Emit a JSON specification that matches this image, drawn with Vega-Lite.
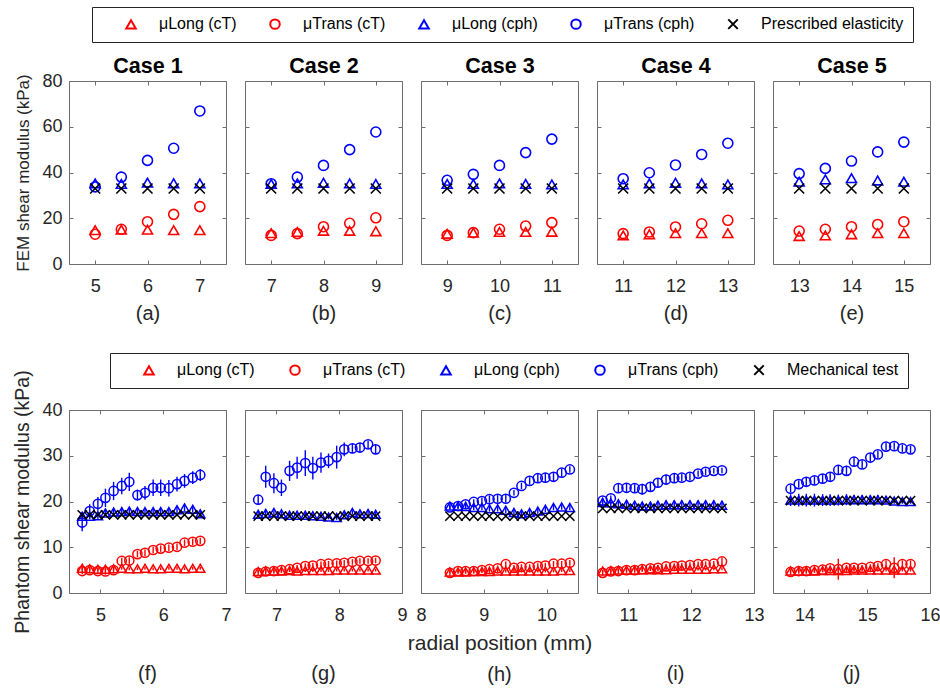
{
"$schema":"https://vega.github.io/schema/vega-lite/v6.json",
"padding":{"left":12,"top":6,"right":0,"bottom":0},
"config":{
 "font":"Liberation Sans",
 "view":{"stroke":"#6e6e6e","strokeWidth":1},
 "axis":{"domain":false,"grid":false,"ticks":true,"tickSize":-4,"tickColor":"#6e6e6e","labelFont":"Liberation Sans","labelFontSize":18,"labelColor":"#262626","labelFlush":false,"labelOverlap":false,"titleFont":"Liberation Sans","titleFontSize":20,"titleFontWeight":"normal","titleColor":"#262626"},
 "axisX":{"titlePadding":8,"labelPadding":17},
 "axisY":{"titlePadding":9,"labelPadding":11},
 "legend":{"orient":"none","direction":"horizontal","strokeColor":"#262626","fillColor":"white","padding":9,"labelFont":"Liberation Sans","labelFontSize":16,"labelColor":"#000000","symbolSize":90,"symbolStrokeWidth":2,"labelOffset":20,"columnPadding":8,"symbolOffset":22}
},
"datasets":{
"fem":[
{"p":"a","s":"LT","x":5,"v":14.8},{"p":"a","s":"LT","x":5.5,"v":15.0},{"p":"a","s":"LT","x":6,"v":15.0},{"p":"a","s":"LT","x":6.5,"v":14.8},{"p":"a","s":"LT","x":7,"v":14.8},
{"p":"a","s":"TT","x":5,"v":13.0},{"p":"a","s":"TT","x":5.5,"v":15.2},{"p":"a","s":"TT","x":6,"v":18.5},{"p":"a","s":"TT","x":6.5,"v":21.7},{"p":"a","s":"TT","x":7,"v":25.1},
{"p":"a","s":"LP","x":5,"v":35.2},{"p":"a","s":"LP","x":5.5,"v":35.0},{"p":"a","s":"LP","x":6,"v":35.6},{"p":"a","s":"LP","x":6.5,"v":35.3},{"p":"a","s":"LP","x":7,"v":35.2},
{"p":"a","s":"TP","x":5,"v":33.7},{"p":"a","s":"TP","x":5.5,"v":38.0},{"p":"a","s":"TP","x":6,"v":45.3},{"p":"a","s":"TP","x":6.5,"v":50.6},{"p":"a","s":"TP","x":7,"v":66.9},
{"p":"a","s":"PE","x":5,"v":33},{"p":"a","s":"PE","x":5.5,"v":33},{"p":"a","s":"PE","x":6,"v":33},{"p":"a","s":"PE","x":6.5,"v":33},{"p":"a","s":"PE","x":7,"v":33},
{"p":"b","s":"LT","x":7,"v":13.5},{"p":"b","s":"LT","x":7.5,"v":14.0},{"p":"b","s":"LT","x":8,"v":14.5},{"p":"b","s":"LT","x":8.5,"v":14.5},{"p":"b","s":"LT","x":9,"v":14.3},
{"p":"b","s":"TT","x":7,"v":12.5},{"p":"b","s":"TT","x":7.5,"v":13.3},{"p":"b","s":"TT","x":8,"v":16.3},{"p":"b","s":"TT","x":8.5,"v":17.8},{"p":"b","s":"TT","x":9,"v":20.2},
{"p":"b","s":"LP","x":7,"v":35.0},{"p":"b","s":"LP","x":7.5,"v":35.2},{"p":"b","s":"LP","x":8,"v":35.5},{"p":"b","s":"LP","x":8.5,"v":35.2},{"p":"b","s":"LP","x":9,"v":35.0},
{"p":"b","s":"TP","x":7,"v":35.1},{"p":"b","s":"TP","x":7.5,"v":38.0},{"p":"b","s":"TP","x":8,"v":43.1},{"p":"b","s":"TP","x":8.5,"v":50.0},{"p":"b","s":"TP","x":9,"v":57.7},
{"p":"b","s":"PE","x":7,"v":33},{"p":"b","s":"PE","x":7.5,"v":33},{"p":"b","s":"PE","x":8,"v":33},{"p":"b","s":"PE","x":8.5,"v":33},{"p":"b","s":"PE","x":9,"v":33},
{"p":"c","s":"LT","x":9,"v":13.2},{"p":"c","s":"LT","x":9.5,"v":13.7},{"p":"c","s":"LT","x":10,"v":14.0},{"p":"c","s":"LT","x":10.5,"v":14.0},{"p":"c","s":"LT","x":11,"v":14.1},
{"p":"c","s":"TT","x":9,"v":12.5},{"p":"c","s":"TT","x":9.5,"v":13.7},{"p":"c","s":"TT","x":10,"v":15.2},{"p":"c","s":"TT","x":10.5,"v":16.6},{"p":"c","s":"TT","x":11,"v":18.1},
{"p":"c","s":"LP","x":9,"v":35.0},{"p":"c","s":"LP","x":9.5,"v":35.0},{"p":"c","s":"LP","x":10,"v":35.2},{"p":"c","s":"LP","x":10.5,"v":35.0},{"p":"c","s":"LP","x":11,"v":34.8},
{"p":"c","s":"TP","x":9,"v":36.6},{"p":"c","s":"TP","x":9.5,"v":39.2},{"p":"c","s":"TP","x":10,"v":43.1},{"p":"c","s":"TP","x":10.5,"v":48.7},{"p":"c","s":"TP","x":11,"v":54.6},
{"p":"c","s":"PE","x":9,"v":33},{"p":"c","s":"PE","x":9.5,"v":33},{"p":"c","s":"PE","x":10,"v":33},{"p":"c","s":"PE","x":10.5,"v":33},{"p":"c","s":"PE","x":11,"v":33},
{"p":"d","s":"LT","x":11,"v":12.5},{"p":"d","s":"LT","x":11.5,"v":13.0},{"p":"d","s":"LT","x":12,"v":13.5},{"p":"d","s":"LT","x":12.5,"v":13.5},{"p":"d","s":"LT","x":13,"v":13.5},
{"p":"d","s":"TT","x":11,"v":13.3},{"p":"d","s":"TT","x":11.5,"v":14.0},{"p":"d","s":"TT","x":12,"v":16.2},{"p":"d","s":"TT","x":12.5,"v":17.6},{"p":"d","s":"TT","x":13,"v":19.1},
{"p":"d","s":"LP","x":11,"v":34.8},{"p":"d","s":"LP","x":11.5,"v":35.2},{"p":"d","s":"LP","x":12,"v":35.5},{"p":"d","s":"LP","x":12.5,"v":35.2},{"p":"d","s":"LP","x":13,"v":34.8},
{"p":"d","s":"TP","x":11,"v":37.3},{"p":"d","s":"TP","x":11.5,"v":39.9},{"p":"d","s":"TP","x":12,"v":43.3},{"p":"d","s":"TP","x":12.5,"v":47.9},{"p":"d","s":"TP","x":13,"v":52.8},
{"p":"d","s":"PE","x":11,"v":33},{"p":"d","s":"PE","x":11.5,"v":33},{"p":"d","s":"PE","x":12,"v":33},{"p":"d","s":"PE","x":12.5,"v":33},{"p":"d","s":"PE","x":13,"v":33},
{"p":"e","s":"LT","x":13,"v":12.2},{"p":"e","s":"LT","x":13.5,"v":12.5},{"p":"e","s":"LT","x":14,"v":13.0},{"p":"e","s":"LT","x":14.5,"v":13.5},{"p":"e","s":"LT","x":15,"v":13.5},
{"p":"e","s":"TT","x":13,"v":14.4},{"p":"e","s":"TT","x":13.5,"v":15.2},{"p":"e","s":"TT","x":14,"v":16.3},{"p":"e","s":"TT","x":14.5,"v":17.3},{"p":"e","s":"TT","x":15,"v":18.5},
{"p":"e","s":"LP","x":13,"v":36.0},{"p":"e","s":"LP","x":13.5,"v":37.0},{"p":"e","s":"LP","x":14,"v":37.5},{"p":"e","s":"LP","x":14.5,"v":36.5},{"p":"e","s":"LP","x":15,"v":36.0},
{"p":"e","s":"TP","x":13,"v":39.5},{"p":"e","s":"TP","x":13.5,"v":41.8},{"p":"e","s":"TP","x":14,"v":45.0},{"p":"e","s":"TP","x":14.5,"v":49.0},{"p":"e","s":"TP","x":15,"v":53.3},
{"p":"e","s":"PE","x":13,"v":33},{"p":"e","s":"PE","x":13.5,"v":33},{"p":"e","s":"PE","x":14,"v":33},{"p":"e","s":"PE","x":14.5,"v":33},{"p":"e","s":"PE","x":15,"v":33}
],
"ph":[
{"p":"f","s":"LT","x":4.71,"v":5.4,"e":0.3},{"p":"f","s":"LT","x":4.83,"v":5.3,"e":0.3},{"p":"f","s":"LT","x":4.96,"v":5.2,"e":0.3},{"p":"f","s":"LT","x":5.08,"v":5.2,"e":0.3},{"p":"f","s":"LT","x":5.21,"v":5.3,"e":0.3},{"p":"f","s":"LT","x":5.34,"v":5.4,"e":0.3},{"p":"f","s":"LT","x":5.46,"v":5.3,"e":0.3},{"p":"f","s":"LT","x":5.59,"v":5.3,"e":0.3},{"p":"f","s":"LT","x":5.71,"v":5.4,"e":0.3},{"p":"f","s":"LT","x":5.84,"v":5.3,"e":0.3},{"p":"f","s":"LT","x":5.96,"v":5.3,"e":0.3},{"p":"f","s":"LT","x":6.09,"v":5.4,"e":0.3},{"p":"f","s":"LT","x":6.22,"v":5.4,"e":0.3},{"p":"f","s":"LT","x":6.34,"v":5.3,"e":0.3},{"p":"f","s":"LT","x":6.47,"v":5.4,"e":0.3},{"p":"f","s":"LT","x":6.59,"v":5.4,"e":0.3},
{"p":"f","s":"TT","x":4.71,"v":4.8,"e":0.7},{"p":"f","s":"TT","x":4.83,"v":5.0,"e":0.7},{"p":"f","s":"TT","x":4.96,"v":4.8,"e":0.7},{"p":"f","s":"TT","x":5.08,"v":4.7,"e":0.7},{"p":"f","s":"TT","x":5.21,"v":5.0,"e":0.7},{"p":"f","s":"TT","x":5.34,"v":7.0,"e":0.7},{"p":"f","s":"TT","x":5.46,"v":7.1,"e":0.7},{"p":"f","s":"TT","x":5.59,"v":8.5,"e":0.7},{"p":"f","s":"TT","x":5.71,"v":8.8,"e":0.7},{"p":"f","s":"TT","x":5.84,"v":9.4,"e":0.7},{"p":"f","s":"TT","x":5.96,"v":9.7,"e":0.7},{"p":"f","s":"TT","x":6.09,"v":9.9,"e":0.7},{"p":"f","s":"TT","x":6.22,"v":10.1,"e":0.7},{"p":"f","s":"TT","x":6.34,"v":11.0,"e":0.7},{"p":"f","s":"TT","x":6.47,"v":11.2,"e":0.7},{"p":"f","s":"TT","x":6.59,"v":11.4,"e":0.7},
{"p":"f","s":"LP","x":4.71,"v":16.8,"e":0.7},{"p":"f","s":"LP","x":4.83,"v":16.8,"e":0.7},{"p":"f","s":"LP","x":4.96,"v":16.9,"e":0.7},{"p":"f","s":"LP","x":5.08,"v":17.5,"e":0.7},{"p":"f","s":"LP","x":5.21,"v":17.7,"e":0.7},{"p":"f","s":"LP","x":5.34,"v":17.8,"e":0.7},{"p":"f","s":"LP","x":5.46,"v":17.9,"e":0.7},{"p":"f","s":"LP","x":5.59,"v":17.8,"e":0.7},{"p":"f","s":"LP","x":5.71,"v":17.8,"e":0.7},{"p":"f","s":"LP","x":5.84,"v":17.8,"e":0.7},{"p":"f","s":"LP","x":5.96,"v":17.8,"e":0.7},{"p":"f","s":"LP","x":6.09,"v":17.8,"e":0.7},{"p":"f","s":"LP","x":6.22,"v":18.2,"e":0.7},{"p":"f","s":"LP","x":6.34,"v":18.6,"e":0.7},{"p":"f","s":"LP","x":6.47,"v":18.3,"e":0.7},{"p":"f","s":"LP","x":6.59,"v":17.3,"e":0.7},
{"p":"f","s":"TP","x":4.71,"v":15.4,"e":1.9},{"p":"f","s":"TP","x":4.83,"v":17.9,"e":1.5},{"p":"f","s":"TP","x":4.96,"v":19.5,"e":1.5},{"p":"f","s":"TP","x":5.08,"v":20.8,"e":2.0},{"p":"f","s":"TP","x":5.21,"v":22.3,"e":2.0},{"p":"f","s":"TP","x":5.34,"v":23.4,"e":1.8},{"p":"f","s":"TP","x":5.46,"v":24.3,"e":2.0},{"p":"f","s":"TP","x":5.59,"v":21.4,"e":1.2},{"p":"f","s":"TP","x":5.71,"v":21.9,"e":1.5},{"p":"f","s":"TP","x":5.84,"v":23.0,"e":1.8},{"p":"f","s":"TP","x":5.96,"v":23.0,"e":1.8},{"p":"f","s":"TP","x":6.09,"v":22.9,"e":1.8},{"p":"f","s":"TP","x":6.22,"v":23.8,"e":1.6},{"p":"f","s":"TP","x":6.34,"v":24.5,"e":1.5},{"p":"f","s":"TP","x":6.47,"v":25.2,"e":1.4},{"p":"f","s":"TP","x":6.59,"v":25.8,"e":1.3},
{"p":"f","s":"MT","x":4.71,"v":17.1,"e":0},{"p":"f","s":"MT","x":4.83,"v":17.1,"e":0},{"p":"f","s":"MT","x":4.96,"v":17.1,"e":0},{"p":"f","s":"MT","x":5.08,"v":17.1,"e":0},{"p":"f","s":"MT","x":5.21,"v":17.1,"e":0},{"p":"f","s":"MT","x":5.34,"v":17.1,"e":0},{"p":"f","s":"MT","x":5.46,"v":17.1,"e":0},{"p":"f","s":"MT","x":5.59,"v":17.1,"e":0},{"p":"f","s":"MT","x":5.71,"v":17.1,"e":0},{"p":"f","s":"MT","x":5.84,"v":17.1,"e":0},{"p":"f","s":"MT","x":5.96,"v":17.1,"e":0},{"p":"f","s":"MT","x":6.09,"v":17.1,"e":0},{"p":"f","s":"MT","x":6.22,"v":17.1,"e":0},{"p":"f","s":"MT","x":6.34,"v":17.1,"e":0},{"p":"f","s":"MT","x":6.47,"v":17.1,"e":0},{"p":"f","s":"MT","x":6.59,"v":17.1,"e":0},
{"p":"g","s":"LT","x":6.71,"v":4.7,"e":0.3},{"p":"g","s":"LT","x":6.83,"v":4.8,"e":0.3},{"p":"g","s":"LT","x":6.96,"v":4.8,"e":0.3},{"p":"g","s":"LT","x":7.08,"v":4.8,"e":0.3},{"p":"g","s":"LT","x":7.21,"v":4.9,"e":0.3},{"p":"g","s":"LT","x":7.33,"v":4.8,"e":0.3},{"p":"g","s":"LT","x":7.46,"v":4.9,"e":0.3},{"p":"g","s":"LT","x":7.58,"v":4.9,"e":0.3},{"p":"g","s":"LT","x":7.71,"v":4.9,"e":0.3},{"p":"g","s":"LT","x":7.83,"v":4.9,"e":0.3},{"p":"g","s":"LT","x":7.96,"v":5.0,"e":0.3},{"p":"g","s":"LT","x":8.08,"v":5.0,"e":0.3},{"p":"g","s":"LT","x":8.21,"v":5.0,"e":0.3},{"p":"g","s":"LT","x":8.33,"v":5.0,"e":0.3},{"p":"g","s":"LT","x":8.46,"v":5.0,"e":0.3},{"p":"g","s":"LT","x":8.58,"v":5.0,"e":0.3},
{"p":"g","s":"TT","x":6.71,"v":4.4,"e":0.6},{"p":"g","s":"TT","x":6.83,"v":4.7,"e":0.6},{"p":"g","s":"TT","x":6.96,"v":4.8,"e":0.6},{"p":"g","s":"TT","x":7.08,"v":5.0,"e":0.6},{"p":"g","s":"TT","x":7.21,"v":5.2,"e":0.6},{"p":"g","s":"TT","x":7.33,"v":5.5,"e":0.6},{"p":"g","s":"TT","x":7.46,"v":5.9,"e":0.6},{"p":"g","s":"TT","x":7.58,"v":6.0,"e":0.6},{"p":"g","s":"TT","x":7.71,"v":6.3,"e":0.6},{"p":"g","s":"TT","x":7.83,"v":6.4,"e":0.6},{"p":"g","s":"TT","x":7.96,"v":6.5,"e":0.6},{"p":"g","s":"TT","x":8.08,"v":6.6,"e":0.6},{"p":"g","s":"TT","x":8.21,"v":6.8,"e":0.6},{"p":"g","s":"TT","x":8.33,"v":7.0,"e":0.6},{"p":"g","s":"TT","x":8.46,"v":7.0,"e":0.6},{"p":"g","s":"TT","x":8.58,"v":7.1,"e":0.6},
{"p":"g","s":"LP","x":6.71,"v":17.2,"e":0.5},{"p":"g","s":"LP","x":6.83,"v":17.4,"e":0.5},{"p":"g","s":"LP","x":6.96,"v":17.6,"e":0.5},{"p":"g","s":"LP","x":7.08,"v":17.3,"e":0.5},{"p":"g","s":"LP","x":7.21,"v":17.0,"e":0.5},{"p":"g","s":"LP","x":7.33,"v":17.0,"e":0.5},{"p":"g","s":"LP","x":7.46,"v":17.0,"e":0.5},{"p":"g","s":"LP","x":7.58,"v":16.9,"e":0.5},{"p":"g","s":"LP","x":7.71,"v":16.8,"e":0.5},{"p":"g","s":"LP","x":7.83,"v":16.6,"e":0.5},{"p":"g","s":"LP","x":7.96,"v":16.5,"e":0.5},{"p":"g","s":"LP","x":8.08,"v":17.1,"e":0.5},{"p":"g","s":"LP","x":8.21,"v":17.6,"e":0.5},{"p":"g","s":"LP","x":8.33,"v":17.3,"e":0.5},{"p":"g","s":"LP","x":8.46,"v":17.4,"e":0.5},{"p":"g","s":"LP","x":8.58,"v":17.2,"e":0.5},
{"p":"g","s":"TP","x":6.71,"v":20.4,"e":1.0},{"p":"g","s":"TP","x":6.83,"v":25.4,"e":2.4},{"p":"g","s":"TP","x":6.96,"v":24.0,"e":2.2},{"p":"g","s":"TP","x":7.08,"v":23.0,"e":1.8},{"p":"g","s":"TP","x":7.21,"v":26.7,"e":2.2},{"p":"g","s":"TP","x":7.33,"v":27.4,"e":2.4},{"p":"g","s":"TP","x":7.46,"v":28.4,"e":2.8},{"p":"g","s":"TP","x":7.58,"v":27.3,"e":2.5},{"p":"g","s":"TP","x":7.71,"v":28.5,"e":2.2},{"p":"g","s":"TP","x":7.83,"v":28.9,"e":1.6},{"p":"g","s":"TP","x":7.96,"v":29.7,"e":2.5},{"p":"g","s":"TP","x":8.08,"v":31.4,"e":1.5},{"p":"g","s":"TP","x":8.21,"v":31.6,"e":1.0},{"p":"g","s":"TP","x":8.33,"v":31.8,"e":1.0},{"p":"g","s":"TP","x":8.46,"v":32.5,"e":0.8},{"p":"g","s":"TP","x":8.58,"v":31.4,"e":1.0},
{"p":"g","s":"MT","x":6.71,"v":16.8,"e":0},{"p":"g","s":"MT","x":6.83,"v":16.8,"e":0},{"p":"g","s":"MT","x":6.96,"v":16.8,"e":0},{"p":"g","s":"MT","x":7.08,"v":16.8,"e":0},{"p":"g","s":"MT","x":7.21,"v":16.8,"e":0},{"p":"g","s":"MT","x":7.33,"v":16.8,"e":0},{"p":"g","s":"MT","x":7.46,"v":16.8,"e":0},{"p":"g","s":"MT","x":7.58,"v":16.8,"e":0},{"p":"g","s":"MT","x":7.71,"v":16.8,"e":0},{"p":"g","s":"MT","x":7.83,"v":16.8,"e":0},{"p":"g","s":"MT","x":7.96,"v":16.8,"e":0},{"p":"g","s":"MT","x":8.08,"v":16.8,"e":0},{"p":"g","s":"MT","x":8.21,"v":16.8,"e":0},{"p":"g","s":"MT","x":8.33,"v":16.8,"e":0},{"p":"g","s":"MT","x":8.46,"v":16.8,"e":0},{"p":"g","s":"MT","x":8.58,"v":16.8,"e":0},
{"p":"h","s":"LT","x":8.46,"v":4.6,"e":0.3},{"p":"h","s":"LT","x":8.59,"v":4.6,"e":0.3},{"p":"h","s":"LT","x":8.71,"v":4.6,"e":0.3},{"p":"h","s":"LT","x":8.84,"v":4.7,"e":0.3},{"p":"h","s":"LT","x":8.97,"v":4.7,"e":0.3},{"p":"h","s":"LT","x":9.09,"v":4.7,"e":0.3},{"p":"h","s":"LT","x":9.22,"v":4.8,"e":0.3},{"p":"h","s":"LT","x":9.35,"v":4.8,"e":0.3},{"p":"h","s":"LT","x":9.48,"v":4.8,"e":0.3},{"p":"h","s":"LT","x":9.60,"v":4.8,"e":0.3},{"p":"h","s":"LT","x":9.73,"v":4.8,"e":0.3},{"p":"h","s":"LT","x":9.86,"v":4.8,"e":0.3},{"p":"h","s":"LT","x":9.98,"v":4.8,"e":0.3},{"p":"h","s":"LT","x":10.11,"v":4.8,"e":0.3},{"p":"h","s":"LT","x":10.24,"v":4.9,"e":0.3},{"p":"h","s":"LT","x":10.37,"v":4.9,"e":0.3},
{"p":"h","s":"TT","x":8.46,"v":4.4,"e":0.6},{"p":"h","s":"TT","x":8.59,"v":4.8,"e":0.6},{"p":"h","s":"TT","x":8.71,"v":4.8,"e":0.6},{"p":"h","s":"TT","x":8.84,"v":4.8,"e":0.6},{"p":"h","s":"TT","x":8.97,"v":5.0,"e":0.6},{"p":"h","s":"TT","x":9.09,"v":5.2,"e":0.6},{"p":"h","s":"TT","x":9.22,"v":5.4,"e":0.6},{"p":"h","s":"TT","x":9.35,"v":6.3,"e":0.6},{"p":"h","s":"TT","x":9.48,"v":5.5,"e":0.6},{"p":"h","s":"TT","x":9.60,"v":5.7,"e":0.6},{"p":"h","s":"TT","x":9.73,"v":5.7,"e":0.6},{"p":"h","s":"TT","x":9.86,"v":5.9,"e":0.6},{"p":"h","s":"TT","x":9.98,"v":6.0,"e":0.6},{"p":"h","s":"TT","x":10.11,"v":6.4,"e":0.6},{"p":"h","s":"TT","x":10.24,"v":6.4,"e":0.6},{"p":"h","s":"TT","x":10.37,"v":6.6,"e":0.6},
{"p":"h","s":"LP","x":8.46,"v":19.0,"e":0.6},{"p":"h","s":"LP","x":8.59,"v":19.0,"e":0.6},{"p":"h","s":"LP","x":8.71,"v":18.9,"e":0.6},{"p":"h","s":"LP","x":8.84,"v":18.7,"e":0.6},{"p":"h","s":"LP","x":8.97,"v":18.7,"e":0.6},{"p":"h","s":"LP","x":9.09,"v":18.4,"e":0.6},{"p":"h","s":"LP","x":9.22,"v":18.4,"e":0.6},{"p":"h","s":"LP","x":9.35,"v":18.1,"e":0.6},{"p":"h","s":"LP","x":9.48,"v":17.6,"e":0.6},{"p":"h","s":"LP","x":9.60,"v":17.3,"e":0.6},{"p":"h","s":"LP","x":9.73,"v":17.6,"e":0.6},{"p":"h","s":"LP","x":9.86,"v":17.9,"e":0.6},{"p":"h","s":"LP","x":9.98,"v":18.3,"e":0.6},{"p":"h","s":"LP","x":10.11,"v":18.7,"e":0.6},{"p":"h","s":"LP","x":10.24,"v":18.8,"e":0.6},{"p":"h","s":"LP","x":10.37,"v":18.7,"e":0.6},
{"p":"h","s":"TP","x":8.46,"v":18.7,"e":0.5},{"p":"h","s":"TP","x":8.59,"v":19.0,"e":0.6},{"p":"h","s":"TP","x":8.71,"v":19.4,"e":0.6},{"p":"h","s":"TP","x":8.84,"v":19.9,"e":0.6},{"p":"h","s":"TP","x":8.97,"v":20.1,"e":0.7},{"p":"h","s":"TP","x":9.09,"v":20.5,"e":0.8},{"p":"h","s":"TP","x":9.22,"v":20.6,"e":0.8},{"p":"h","s":"TP","x":9.35,"v":20.6,"e":0.8},{"p":"h","s":"TP","x":9.48,"v":21.9,"e":0.6},{"p":"h","s":"TP","x":9.60,"v":23.4,"e":0.7},{"p":"h","s":"TP","x":9.73,"v":24.5,"e":0.8},{"p":"h","s":"TP","x":9.86,"v":25.1,"e":0.9},{"p":"h","s":"TP","x":9.98,"v":25.2,"e":1.0},{"p":"h","s":"TP","x":10.11,"v":25.4,"e":1.0},{"p":"h","s":"TP","x":10.24,"v":26.3,"e":0.9},{"p":"h","s":"TP","x":10.37,"v":27.0,"e":0.7},
{"p":"h","s":"MT","x":8.46,"v":16.8,"e":0},{"p":"h","s":"MT","x":8.59,"v":16.8,"e":0},{"p":"h","s":"MT","x":8.71,"v":16.8,"e":0},{"p":"h","s":"MT","x":8.84,"v":16.8,"e":0},{"p":"h","s":"MT","x":8.97,"v":16.8,"e":0},{"p":"h","s":"MT","x":9.09,"v":16.8,"e":0},{"p":"h","s":"MT","x":9.22,"v":16.8,"e":0},{"p":"h","s":"MT","x":9.35,"v":16.8,"e":0},{"p":"h","s":"MT","x":9.48,"v":16.8,"e":0},{"p":"h","s":"MT","x":9.60,"v":16.8,"e":0},{"p":"h","s":"MT","x":9.73,"v":16.8,"e":0},{"p":"h","s":"MT","x":9.86,"v":16.8,"e":0},{"p":"h","s":"MT","x":9.98,"v":16.8,"e":0},{"p":"h","s":"MT","x":10.11,"v":16.8,"e":0},{"p":"h","s":"MT","x":10.24,"v":16.8,"e":0},{"p":"h","s":"MT","x":10.37,"v":16.8,"e":0},
{"p":"i","s":"LT","x":10.59,"v":4.8,"e":0.3},{"p":"i","s":"LT","x":10.72,"v":4.9,"e":0.3},{"p":"i","s":"LT","x":10.84,"v":5.0,"e":0.3},{"p":"i","s":"LT","x":10.97,"v":5.0,"e":0.3},{"p":"i","s":"LT","x":11.10,"v":5.0,"e":0.3},{"p":"i","s":"LT","x":11.22,"v":5.1,"e":0.3},{"p":"i","s":"LT","x":11.35,"v":5.1,"e":0.3},{"p":"i","s":"LT","x":11.47,"v":5.1,"e":0.3},{"p":"i","s":"LT","x":11.60,"v":5.1,"e":0.3},{"p":"i","s":"LT","x":11.73,"v":5.2,"e":0.3},{"p":"i","s":"LT","x":11.85,"v":5.2,"e":0.3},{"p":"i","s":"LT","x":11.98,"v":5.2,"e":0.3},{"p":"i","s":"LT","x":12.11,"v":5.2,"e":0.3},{"p":"i","s":"LT","x":12.23,"v":5.2,"e":0.3},{"p":"i","s":"LT","x":12.36,"v":5.3,"e":0.3},{"p":"i","s":"LT","x":12.49,"v":5.3,"e":0.3},
{"p":"i","s":"TT","x":10.59,"v":4.4,"e":0.6},{"p":"i","s":"TT","x":10.72,"v":4.7,"e":0.6},{"p":"i","s":"TT","x":10.84,"v":4.8,"e":0.6},{"p":"i","s":"TT","x":10.97,"v":5.0,"e":0.6},{"p":"i","s":"TT","x":11.10,"v":5.0,"e":0.6},{"p":"i","s":"TT","x":11.22,"v":5.2,"e":0.6},{"p":"i","s":"TT","x":11.35,"v":5.4,"e":0.6},{"p":"i","s":"TT","x":11.47,"v":5.5,"e":0.6},{"p":"i","s":"TT","x":11.60,"v":5.8,"e":0.6},{"p":"i","s":"TT","x":11.73,"v":5.9,"e":0.6},{"p":"i","s":"TT","x":11.85,"v":6.0,"e":0.6},{"p":"i","s":"TT","x":11.98,"v":6.1,"e":0.6},{"p":"i","s":"TT","x":12.11,"v":6.3,"e":0.6},{"p":"i","s":"TT","x":12.23,"v":6.3,"e":0.6},{"p":"i","s":"TT","x":12.36,"v":6.4,"e":0.6},{"p":"i","s":"TT","x":12.49,"v":6.9,"e":0.8},
{"p":"i","s":"LP","x":10.59,"v":19.8,"e":0.9},{"p":"i","s":"LP","x":10.72,"v":19.7,"e":0.9},{"p":"i","s":"LP","x":10.84,"v":19.5,"e":0.9},{"p":"i","s":"LP","x":10.97,"v":19.4,"e":0.9},{"p":"i","s":"LP","x":11.10,"v":19.2,"e":0.9},{"p":"i","s":"LP","x":11.22,"v":19.0,"e":0.9},{"p":"i","s":"LP","x":11.35,"v":19.0,"e":0.9},{"p":"i","s":"LP","x":11.47,"v":19.2,"e":0.9},{"p":"i","s":"LP","x":11.60,"v":19.3,"e":0.9},{"p":"i","s":"LP","x":11.73,"v":19.3,"e":0.9},{"p":"i","s":"LP","x":11.85,"v":19.3,"e":0.9},{"p":"i","s":"LP","x":11.98,"v":19.3,"e":0.9},{"p":"i","s":"LP","x":12.11,"v":19.3,"e":0.9},{"p":"i","s":"LP","x":12.23,"v":19.3,"e":0.9},{"p":"i","s":"LP","x":12.36,"v":19.3,"e":0.9},{"p":"i","s":"LP","x":12.49,"v":19.2,"e":0.9},
{"p":"i","s":"TP","x":10.59,"v":20.2,"e":0.6},{"p":"i","s":"TP","x":10.72,"v":20.7,"e":0.6},{"p":"i","s":"TP","x":10.84,"v":22.9,"e":0.9},{"p":"i","s":"TP","x":10.97,"v":23.0,"e":0.9},{"p":"i","s":"TP","x":11.10,"v":22.9,"e":0.9},{"p":"i","s":"TP","x":11.22,"v":22.7,"e":1.2},{"p":"i","s":"TP","x":11.35,"v":23.2,"e":1.0},{"p":"i","s":"TP","x":11.47,"v":24.1,"e":1.0},{"p":"i","s":"TP","x":11.60,"v":24.8,"e":1.1},{"p":"i","s":"TP","x":11.73,"v":25.1,"e":1.0},{"p":"i","s":"TP","x":11.85,"v":25.2,"e":0.8},{"p":"i","s":"TP","x":11.98,"v":25.4,"e":0.8},{"p":"i","s":"TP","x":12.11,"v":26.1,"e":0.7},{"p":"i","s":"TP","x":12.23,"v":26.5,"e":0.7},{"p":"i","s":"TP","x":12.36,"v":26.7,"e":0.6},{"p":"i","s":"TP","x":12.49,"v":26.8,"e":0.6},
{"p":"i","s":"MT","x":10.59,"v":18.5,"e":0},{"p":"i","s":"MT","x":10.72,"v":18.5,"e":0},{"p":"i","s":"MT","x":10.84,"v":18.5,"e":0},{"p":"i","s":"MT","x":10.97,"v":18.5,"e":0},{"p":"i","s":"MT","x":11.10,"v":18.5,"e":0},{"p":"i","s":"MT","x":11.22,"v":18.5,"e":0},{"p":"i","s":"MT","x":11.35,"v":18.5,"e":0},{"p":"i","s":"MT","x":11.47,"v":18.5,"e":0},{"p":"i","s":"MT","x":11.60,"v":18.5,"e":0},{"p":"i","s":"MT","x":11.73,"v":18.5,"e":0},{"p":"i","s":"MT","x":11.85,"v":18.5,"e":0},{"p":"i","s":"MT","x":11.98,"v":18.5,"e":0},{"p":"i","s":"MT","x":12.11,"v":18.5,"e":0},{"p":"i","s":"MT","x":12.23,"v":18.5,"e":0},{"p":"i","s":"MT","x":12.36,"v":18.5,"e":0},{"p":"i","s":"MT","x":12.49,"v":18.5,"e":0},
{"p":"j","s":"LT","x":13.78,"v":4.8,"e":0.3},{"p":"j","s":"LT","x":13.91,"v":4.8,"e":0.3},{"p":"j","s":"LT","x":14.03,"v":4.8,"e":0.3},{"p":"j","s":"LT","x":14.16,"v":4.8,"e":0.3},{"p":"j","s":"LT","x":14.29,"v":4.9,"e":0.3},{"p":"j","s":"LT","x":14.41,"v":4.9,"e":0.3},{"p":"j","s":"LT","x":14.54,"v":4.9,"e":0.3},{"p":"j","s":"LT","x":14.67,"v":4.9,"e":0.3},{"p":"j","s":"LT","x":14.79,"v":5.0,"e":0.3},{"p":"j","s":"LT","x":14.92,"v":5.0,"e":0.3},{"p":"j","s":"LT","x":15.05,"v":5.0,"e":0.3},{"p":"j","s":"LT","x":15.17,"v":5.0,"e":0.3},{"p":"j","s":"LT","x":15.30,"v":5.0,"e":0.3},{"p":"j","s":"LT","x":15.43,"v":5.0,"e":0.3},{"p":"j","s":"LT","x":15.56,"v":5.0,"e":0.3},{"p":"j","s":"LT","x":15.69,"v":5.0,"e":0.3},
{"p":"j","s":"TT","x":13.78,"v":4.6,"e":0.6},{"p":"j","s":"TT","x":13.91,"v":4.8,"e":0.6},{"p":"j","s":"TT","x":14.03,"v":4.8,"e":0.6},{"p":"j","s":"TT","x":14.16,"v":5.0,"e":0.6},{"p":"j","s":"TT","x":14.29,"v":5.1,"e":0.6},{"p":"j","s":"TT","x":14.41,"v":5.4,"e":0.6},{"p":"j","s":"TT","x":14.54,"v":5.2,"e":2.3},{"p":"j","s":"TT","x":14.67,"v":5.5,"e":0.6},{"p":"j","s":"TT","x":14.79,"v":5.5,"e":0.6},{"p":"j","s":"TT","x":14.92,"v":5.5,"e":0.6},{"p":"j","s":"TT","x":15.05,"v":5.7,"e":0.6},{"p":"j","s":"TT","x":15.17,"v":5.9,"e":0.6},{"p":"j","s":"TT","x":15.30,"v":6.3,"e":0.8},{"p":"j","s":"TT","x":15.43,"v":5.5,"e":2.3},{"p":"j","s":"TT","x":15.56,"v":6.3,"e":0.8},{"p":"j","s":"TT","x":15.69,"v":6.3,"e":0.8},
{"p":"j","s":"LP","x":13.78,"v":20.3,"e":1.3},{"p":"j","s":"LP","x":13.91,"v":20.3,"e":1.4},{"p":"j","s":"LP","x":14.03,"v":20.3,"e":1.4},{"p":"j","s":"LP","x":14.16,"v":20.3,"e":1.4},{"p":"j","s":"LP","x":14.29,"v":20.3,"e":1.3},{"p":"j","s":"LP","x":14.41,"v":20.3,"e":1.3},{"p":"j","s":"LP","x":14.54,"v":20.3,"e":1.2},{"p":"j","s":"LP","x":14.67,"v":20.4,"e":1.2},{"p":"j","s":"LP","x":14.79,"v":20.4,"e":1.0},{"p":"j","s":"LP","x":14.92,"v":20.4,"e":1.0},{"p":"j","s":"LP","x":15.05,"v":20.4,"e":1.0},{"p":"j","s":"LP","x":15.17,"v":20.4,"e":1.0},{"p":"j","s":"LP","x":15.30,"v":20.3,"e":0.8},{"p":"j","s":"LP","x":15.43,"v":20.1,"e":0.6},{"p":"j","s":"LP","x":15.56,"v":20.0,"e":0.5},{"p":"j","s":"LP","x":15.69,"v":20.0,"e":0.5},
{"p":"j","s":"TP","x":13.78,"v":22.8,"e":0.8},{"p":"j","s":"TP","x":13.91,"v":23.8,"e":0.8},{"p":"j","s":"TP","x":14.03,"v":24.3,"e":0.9},{"p":"j","s":"TP","x":14.16,"v":24.6,"e":0.9},{"p":"j","s":"TP","x":14.29,"v":25.0,"e":1.0},{"p":"j","s":"TP","x":14.41,"v":25.4,"e":1.0},{"p":"j","s":"TP","x":14.54,"v":26.9,"e":1.1},{"p":"j","s":"TP","x":14.67,"v":26.7,"e":1.1},{"p":"j","s":"TP","x":14.79,"v":28.7,"e":1.0},{"p":"j","s":"TP","x":14.92,"v":28.1,"e":0.9},{"p":"j","s":"TP","x":15.05,"v":29.6,"e":0.9},{"p":"j","s":"TP","x":15.17,"v":30.3,"e":0.8},{"p":"j","s":"TP","x":15.30,"v":32.0,"e":0.8},{"p":"j","s":"TP","x":15.43,"v":32.1,"e":0.8},{"p":"j","s":"TP","x":15.56,"v":31.6,"e":0.8},{"p":"j","s":"TP","x":15.69,"v":31.4,"e":0.8},
{"p":"j","s":"MT","x":13.78,"v":20.2,"e":0},{"p":"j","s":"MT","x":13.91,"v":20.2,"e":0},{"p":"j","s":"MT","x":14.03,"v":20.2,"e":0},{"p":"j","s":"MT","x":14.16,"v":20.2,"e":0},{"p":"j","s":"MT","x":14.29,"v":20.2,"e":0},{"p":"j","s":"MT","x":14.41,"v":20.2,"e":0},{"p":"j","s":"MT","x":14.54,"v":20.2,"e":0},{"p":"j","s":"MT","x":14.67,"v":20.2,"e":0},{"p":"j","s":"MT","x":14.79,"v":20.2,"e":0},{"p":"j","s":"MT","x":14.92,"v":20.2,"e":0},{"p":"j","s":"MT","x":15.05,"v":20.2,"e":0},{"p":"j","s":"MT","x":15.17,"v":20.2,"e":0},{"p":"j","s":"MT","x":15.30,"v":20.2,"e":0},{"p":"j","s":"MT","x":15.43,"v":20.2,"e":0},{"p":"j","s":"MT","x":15.56,"v":20.2,"e":0},{"p":"j","s":"MT","x":15.69,"v":20.2,"e":0}
]
},
"columns":5,
"spacing":{"row":146,"column":19},
"bounds":"flush",
"resolve":{"scale":{"color":"independent","shape":"independent","stroke":"independent","x":"independent","y":"independent"},"legend":{"color":"independent","shape":"independent","stroke":"independent"}},
"concat":[
{"width":157,"height":183,"data":{"name":"fem"},"transform":[{"filter":"datum.p==='a'"}],"resolve":{"axis":{"x":"independent","y":"independent"}},
 "layer":[
  {"mark":{"type":"point","filled":false,"size":100,"strokeWidth":1.6,"opacity":1},
   "encoding":{
    "x":{"field":"x","type":"quantitative","scale":{"domain":[4.5,7.5],"nice":false,"zero":false},"axis":{"orient":"bottom","values":[5,6,7],"title":"(a)"}},
    "y":{"field":"v","type":"quantitative","scale":{"domain":[0,80],"nice":false},"axis":{"orient":"left","values":[0,20,40,60,80],"title":"FEM shear modulus (kPa)","titleFontSize":17}},
    "color":{"field":"s","type":"nominal","scale":{"domain":["LT","TT","LP","TP","PE"],"range":["#ff0000","#ff0000","#0000ff","#0000ff","#000000"]},"legend":{"title":null,"legendX":23,"legendY":-74,"labelExpr":"{'LT':'μLong (cT)','TT':'μTrans (cT)','LP':'μLong (cph)','TP':'μTrans (cph)','PE':'Prescribed elasticity'}[datum.label]"}},
    "shape":{"field":"s","type":"nominal","scale":{"domain":["LT","TT","LP","TP","PE"],"range":["triangle-up","circle","triangle-up","circle","M-1,-1L1,1M-1,1L1,-1"]},"legend":{"title":null,"legendX":23,"legendY":-74,"labelExpr":"{'LT':'μLong (cT)','TT':'μTrans (cT)','LP':'μLong (cph)','TP':'μTrans (cph)','PE':'Prescribed elasticity'}[datum.label]"}}}},
  {"mark":{"type":"point","opacity":0},"encoding":{
    "x":{"field":"x","type":"quantitative","axis":{"orient":"top","values":[5,6,7],"labels":false,"title":"Case 1","titleFontWeight":"bold","titleFontSize":21.5,"titleColor":"#000000","titlePadding":3}},
    "y":{"field":"v","type":"quantitative","axis":{"orient":"right","values":[0,20,40,60,80],"labels":false,"title":null}}}}]},
{"width":157,"height":183,"data":{"name":"fem"},"transform":[{"filter":"datum.p==='b'"}],"resolve":{"axis":{"x":"independent","y":"independent"}},
 "layer":[
  {"mark":{"type":"point","filled":false,"size":100,"strokeWidth":1.6,"opacity":1},
   "encoding":{
    "x":{"field":"x","type":"quantitative","scale":{"domain":[6.5,9.5],"nice":false,"zero":false},"axis":{"orient":"bottom","values":[7,8,9],"title":"(b)"}},
    "y":{"field":"v","type":"quantitative","scale":{"domain":[0,80],"nice":false},"axis":{"orient":"left","values":[0,20,40,60,80],"labels":false,"title":null}},
    "color":{"field":"s","type":"nominal","scale":{"domain":["LT","TT","LP","TP","PE"],"range":["#ff0000","#ff0000","#0000ff","#0000ff","#000000"]},"legend":null},
    "shape":{"field":"s","type":"nominal","scale":{"domain":["LT","TT","LP","TP","PE"],"range":["triangle-up","circle","triangle-up","circle","M-1,-1L1,1M-1,1L1,-1"]},"legend":null}}},
  {"mark":{"type":"point","opacity":0},"encoding":{
    "x":{"field":"x","type":"quantitative","axis":{"orient":"top","values":[7,8,9],"labels":false,"title":"Case 2","titleFontWeight":"bold","titleFontSize":21.5,"titleColor":"#000000","titlePadding":3}},
    "y":{"field":"v","type":"quantitative","axis":{"orient":"right","values":[0,20,40,60,80],"labels":false,"title":null}}}}]},
{"width":157,"height":183,"data":{"name":"fem"},"transform":[{"filter":"datum.p==='c'"}],"resolve":{"axis":{"x":"independent","y":"independent"}},
 "layer":[
  {"mark":{"type":"point","filled":false,"size":100,"strokeWidth":1.6,"opacity":1},
   "encoding":{
    "x":{"field":"x","type":"quantitative","scale":{"domain":[8.5,11.5],"nice":false,"zero":false},"axis":{"orient":"bottom","values":[9,10,11],"title":"(c)"}},
    "y":{"field":"v","type":"quantitative","scale":{"domain":[0,80],"nice":false},"axis":{"orient":"left","values":[0,20,40,60,80],"labels":false,"title":null}},
    "color":{"field":"s","type":"nominal","scale":{"domain":["LT","TT","LP","TP","PE"],"range":["#ff0000","#ff0000","#0000ff","#0000ff","#000000"]},"legend":null},
    "shape":{"field":"s","type":"nominal","scale":{"domain":["LT","TT","LP","TP","PE"],"range":["triangle-up","circle","triangle-up","circle","M-1,-1L1,1M-1,1L1,-1"]},"legend":null}}},
  {"mark":{"type":"point","opacity":0},"encoding":{
    "x":{"field":"x","type":"quantitative","axis":{"orient":"top","values":[9,10,11],"labels":false,"title":"Case 3","titleFontWeight":"bold","titleFontSize":21.5,"titleColor":"#000000","titlePadding":3}},
    "y":{"field":"v","type":"quantitative","axis":{"orient":"right","values":[0,20,40,60,80],"labels":false,"title":null}}}}]},
{"width":157,"height":183,"data":{"name":"fem"},"transform":[{"filter":"datum.p==='d'"}],"resolve":{"axis":{"x":"independent","y":"independent"}},
 "layer":[
  {"mark":{"type":"point","filled":false,"size":100,"strokeWidth":1.6,"opacity":1},
   "encoding":{
    "x":{"field":"x","type":"quantitative","scale":{"domain":[10.5,13.5],"nice":false,"zero":false},"axis":{"orient":"bottom","values":[11,12,13],"title":"(d)"}},
    "y":{"field":"v","type":"quantitative","scale":{"domain":[0,80],"nice":false},"axis":{"orient":"left","values":[0,20,40,60,80],"labels":false,"title":null}},
    "color":{"field":"s","type":"nominal","scale":{"domain":["LT","TT","LP","TP","PE"],"range":["#ff0000","#ff0000","#0000ff","#0000ff","#000000"]},"legend":null},
    "shape":{"field":"s","type":"nominal","scale":{"domain":["LT","TT","LP","TP","PE"],"range":["triangle-up","circle","triangle-up","circle","M-1,-1L1,1M-1,1L1,-1"]},"legend":null}}},
  {"mark":{"type":"point","opacity":0},"encoding":{
    "x":{"field":"x","type":"quantitative","axis":{"orient":"top","values":[11,12,13],"labels":false,"title":"Case 4","titleFontWeight":"bold","titleFontSize":21.5,"titleColor":"#000000","titlePadding":3}},
    "y":{"field":"v","type":"quantitative","axis":{"orient":"right","values":[0,20,40,60,80],"labels":false,"title":null}}}}]},
{"width":157,"height":183,"data":{"name":"fem"},"transform":[{"filter":"datum.p==='e'"}],"resolve":{"axis":{"x":"independent","y":"independent"}},
 "layer":[
  {"mark":{"type":"point","filled":false,"size":100,"strokeWidth":1.6,"opacity":1},
   "encoding":{
    "x":{"field":"x","type":"quantitative","scale":{"domain":[12.5,15.5],"nice":false,"zero":false},"axis":{"orient":"bottom","values":[13,14,15],"title":"(e)"}},
    "y":{"field":"v","type":"quantitative","scale":{"domain":[0,80],"nice":false},"axis":{"orient":"left","values":[0,20,40,60,80],"labels":false,"title":null}},
    "color":{"field":"s","type":"nominal","scale":{"domain":["LT","TT","LP","TP","PE"],"range":["#ff0000","#ff0000","#0000ff","#0000ff","#000000"]},"legend":null},
    "shape":{"field":"s","type":"nominal","scale":{"domain":["LT","TT","LP","TP","PE"],"range":["triangle-up","circle","triangle-up","circle","M-1,-1L1,1M-1,1L1,-1"]},"legend":null}}},
  {"mark":{"type":"point","opacity":0},"encoding":{
    "x":{"field":"x","type":"quantitative","axis":{"orient":"top","values":[13,14,15],"labels":false,"title":"Case 5","titleFontWeight":"bold","titleFontSize":21.5,"titleColor":"#000000","titlePadding":3}},
    "y":{"field":"v","type":"quantitative","axis":{"orient":"right","values":[0,20,40,60,80],"labels":false,"title":null}}}}]},
{"width":157,"height":183,"data":{"name":"ph"},"transform":[{"filter":"datum.p==='f'"}],"resolve":{"axis":{"x":"independent","y":"independent"}},
 "title":{"text":"(f)","orient":"bottom","fontWeight":"normal","fontSize":20,"color":"#262626","offset":12},
 "layer":[
  {"mark":{"type":"errorbar","thickness":1.4},"encoding":{
    "x":{"field":"x","type":"quantitative","scale":{"domain":[4.5,7],"nice":false,"zero":false},"axis":null},
    "y":{"field":"v","type":"quantitative","scale":{"domain":[0,40],"nice":false},"axis":null},
    "yError":{"field":"e"},
    "stroke":{"field":"s","type":"nominal","scale":{"domain":["TT","LT","TP","LP","MT"],"range":["#ff0000","#ff0000","#0000ff","#0000ff","#000000"]},"legend":null}}},
  {"mark":{"type":"point","filled":false,"size":85,"strokeWidth":1.5,"opacity":1},"encoding":{
    "x":{"field":"x","type":"quantitative","axis":{"orient":"bottom","values":[5,6,7],"title":" "}},
    "y":{"field":"v","type":"quantitative","axis":{"orient":"left","values":[0,10,20,30,40],"title":"Phantom shear modulus (kPa)","titleFontSize":19.5}},
    "color":{"field":"s","type":"nominal","scale":{"domain":["LT","TT","LP","TP","MT"],"range":["#ff0000","#ff0000","#0000ff","#0000ff","#000000"]},"legend":{"title":null,"legendX":41,"legendY":-57,"columnPadding":10,"labelExpr":"{'LT':'μLong (cT)','TT':'μTrans (cT)','LP':'μLong (cph)','TP':'μTrans (cph)','MT':'Mechanical test'}[datum.label]"}},
    "shape":{"field":"s","type":"nominal","scale":{"domain":["LT","TT","LP","TP","MT"],"range":["triangle-up","circle","triangle-up","circle","M-1,-1L1,1M-1,1L1,-1"]},"legend":{"title":null,"legendX":41,"legendY":-57,"columnPadding":10,"labelExpr":"{'LT':'μLong (cT)','TT':'μTrans (cT)','LP':'μLong (cph)','TP':'μTrans (cph)','MT':'Mechanical test'}[datum.label]"}}}},
  {"mark":{"type":"point","opacity":0},"encoding":{
    "x":{"field":"x","type":"quantitative","axis":{"orient":"top","values":[5,6,7],"labels":false,"title":null}},
    "y":{"field":"v","type":"quantitative","axis":{"orient":"right","values":[0,10,20,30,40],"labels":false,"title":null}}}}]},
{"width":157,"height":183,"data":{"name":"ph"},"transform":[{"filter":"datum.p==='g'"}],"resolve":{"axis":{"x":"independent","y":"independent"}},
 "title":{"text":"(g)","orient":"bottom","fontWeight":"normal","fontSize":20,"color":"#262626","offset":12},
 "layer":[
  {"mark":{"type":"errorbar","thickness":1.4},"encoding":{
    "x":{"field":"x","type":"quantitative","scale":{"domain":[6.5,9],"nice":false,"zero":false},"axis":null},
    "y":{"field":"v","type":"quantitative","scale":{"domain":[0,40],"nice":false},"axis":null},
    "yError":{"field":"e"},
    "stroke":{"field":"s","type":"nominal","scale":{"domain":["TT","LT","TP","LP","MT"],"range":["#ff0000","#ff0000","#0000ff","#0000ff","#000000"]},"legend":null}}},
  {"mark":{"type":"point","filled":false,"size":85,"strokeWidth":1.5,"opacity":1},"encoding":{
    "x":{"field":"x","type":"quantitative","axis":{"orient":"bottom","values":[7,8,9],"title":" "}},
    "y":{"field":"v","type":"quantitative","axis":{"orient":"left","values":[0,10,20,30,40],"labels":false,"title":null}},
    "color":{"field":"s","type":"nominal","scale":{"domain":["LT","TT","LP","TP","MT"],"range":["#ff0000","#ff0000","#0000ff","#0000ff","#000000"]},"legend":null},
    "shape":{"field":"s","type":"nominal","scale":{"domain":["LT","TT","LP","TP","MT"],"range":["triangle-up","circle","triangle-up","circle","M-1,-1L1,1M-1,1L1,-1"]},"legend":null}}},
  {"mark":{"type":"point","opacity":0},"encoding":{
    "x":{"field":"x","type":"quantitative","axis":{"orient":"top","values":[7,8,9],"labels":false,"title":null}},
    "y":{"field":"v","type":"quantitative","axis":{"orient":"right","values":[0,10,20,30,40],"labels":false,"title":null}}}}]},
{"width":157,"height":183,"data":{"name":"ph"},"transform":[{"filter":"datum.p==='h'"}],"resolve":{"axis":{"x":"independent","y":"independent"}},
 "title":{"text":"(h)","orient":"bottom","fontWeight":"normal","fontSize":20,"color":"#262626","offset":12},
 "layer":[
  {"mark":{"type":"errorbar","thickness":1.4},"encoding":{
    "x":{"field":"x","type":"quantitative","scale":{"domain":[8,10.5],"nice":false,"zero":false},"axis":null},
    "y":{"field":"v","type":"quantitative","scale":{"domain":[0,40],"nice":false},"axis":null},
    "yError":{"field":"e"},
    "stroke":{"field":"s","type":"nominal","scale":{"domain":["TT","LT","TP","LP","MT"],"range":["#ff0000","#ff0000","#0000ff","#0000ff","#000000"]},"legend":null}}},
  {"mark":{"type":"point","filled":false,"size":85,"strokeWidth":1.5,"opacity":1},"encoding":{
    "x":{"field":"x","type":"quantitative","axis":{"orient":"bottom","values":[8,9,10],"title":"radial position (mm)","titleFontSize":21}},
    "y":{"field":"v","type":"quantitative","axis":{"orient":"left","values":[0,10,20,30,40],"labels":false,"title":null}},
    "color":{"field":"s","type":"nominal","scale":{"domain":["LT","TT","LP","TP","MT"],"range":["#ff0000","#ff0000","#0000ff","#0000ff","#000000"]},"legend":null},
    "shape":{"field":"s","type":"nominal","scale":{"domain":["LT","TT","LP","TP","MT"],"range":["triangle-up","circle","triangle-up","circle","M-1,-1L1,1M-1,1L1,-1"]},"legend":null}}},
  {"mark":{"type":"point","opacity":0},"encoding":{
    "x":{"field":"x","type":"quantitative","axis":{"orient":"top","values":[8,9,10],"labels":false,"title":null}},
    "y":{"field":"v","type":"quantitative","axis":{"orient":"right","values":[0,10,20,30,40],"labels":false,"title":null}}}}]},
{"width":157,"height":183,"data":{"name":"ph"},"transform":[{"filter":"datum.p==='i'"}],"resolve":{"axis":{"x":"independent","y":"independent"}},
 "title":{"text":"(i)","orient":"bottom","fontWeight":"normal","fontSize":20,"color":"#262626","offset":12},
 "layer":[
  {"mark":{"type":"errorbar","thickness":1.4},"encoding":{
    "x":{"field":"x","type":"quantitative","scale":{"domain":[10.5,13],"nice":false,"zero":false},"axis":null},
    "y":{"field":"v","type":"quantitative","scale":{"domain":[0,40],"nice":false},"axis":null},
    "yError":{"field":"e"},
    "stroke":{"field":"s","type":"nominal","scale":{"domain":["TT","LT","TP","LP","MT"],"range":["#ff0000","#ff0000","#0000ff","#0000ff","#000000"]},"legend":null}}},
  {"mark":{"type":"point","filled":false,"size":85,"strokeWidth":1.5,"opacity":1},"encoding":{
    "x":{"field":"x","type":"quantitative","axis":{"orient":"bottom","values":[11,12,13],"title":" "}},
    "y":{"field":"v","type":"quantitative","axis":{"orient":"left","values":[0,10,20,30,40],"labels":false,"title":null}},
    "color":{"field":"s","type":"nominal","scale":{"domain":["LT","TT","LP","TP","MT"],"range":["#ff0000","#ff0000","#0000ff","#0000ff","#000000"]},"legend":null},
    "shape":{"field":"s","type":"nominal","scale":{"domain":["LT","TT","LP","TP","MT"],"range":["triangle-up","circle","triangle-up","circle","M-1,-1L1,1M-1,1L1,-1"]},"legend":null}}},
  {"mark":{"type":"point","opacity":0},"encoding":{
    "x":{"field":"x","type":"quantitative","axis":{"orient":"top","values":[11,12,13],"labels":false,"title":null}},
    "y":{"field":"v","type":"quantitative","axis":{"orient":"right","values":[0,10,20,30,40],"labels":false,"title":null}}}}]},
{"width":157,"height":183,"data":{"name":"ph"},"transform":[{"filter":"datum.p==='j'"}],"resolve":{"axis":{"x":"independent","y":"independent"}},
 "title":{"text":"(j)","orient":"bottom","fontWeight":"normal","fontSize":20,"color":"#262626","offset":12},
 "layer":[
  {"mark":{"type":"errorbar","thickness":1.4},"encoding":{
    "x":{"field":"x","type":"quantitative","scale":{"domain":[13.5,16],"nice":false,"zero":false},"axis":null},
    "y":{"field":"v","type":"quantitative","scale":{"domain":[0,40],"nice":false},"axis":null},
    "yError":{"field":"e"},
    "stroke":{"field":"s","type":"nominal","scale":{"domain":["TT","LT","TP","LP","MT"],"range":["#ff0000","#ff0000","#0000ff","#0000ff","#000000"]},"legend":null}}},
  {"mark":{"type":"point","filled":false,"size":85,"strokeWidth":1.5,"opacity":1},"encoding":{
    "x":{"field":"x","type":"quantitative","axis":{"orient":"bottom","values":[14,15,16],"title":" "}},
    "y":{"field":"v","type":"quantitative","axis":{"orient":"left","values":[0,10,20,30,40],"labels":false,"title":null}},
    "color":{"field":"s","type":"nominal","scale":{"domain":["LT","TT","LP","TP","MT"],"range":["#ff0000","#ff0000","#0000ff","#0000ff","#000000"]},"legend":null},
    "shape":{"field":"s","type":"nominal","scale":{"domain":["LT","TT","LP","TP","MT"],"range":["triangle-up","circle","triangle-up","circle","M-1,-1L1,1M-1,1L1,-1"]},"legend":null}}},
  {"mark":{"type":"point","opacity":0},"encoding":{
    "x":{"field":"x","type":"quantitative","axis":{"orient":"top","values":[14,15,16],"labels":false,"title":null}},
    "y":{"field":"v","type":"quantitative","axis":{"orient":"right","values":[0,10,20,30,40],"labels":false,"title":null}}}}]}
]
}
